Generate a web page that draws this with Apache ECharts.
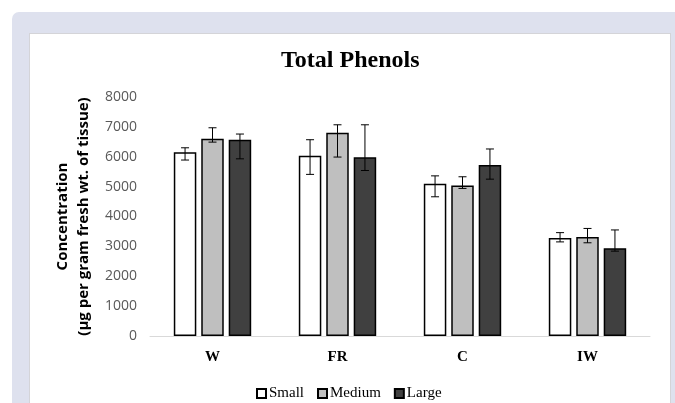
<!DOCTYPE html>
<html>
<head>
<meta charset="utf-8">
<script src="https://cdn.jsdelivr.net/npm/echarts@6/dist/echarts.min.js"></script>
<style>
  html, body { margin: 0; padding: 0; background: #ffffff; }
  #frame { position: absolute; left: 12px; top: 12px; width: 663px; height: 391px;
           background: #dee1ee; border-top-left-radius: 7px; }
  #panel { position: absolute; left: 29px; top: 33px; width: 640px; height: 370px;
           background: #ffffff; border: 1px solid #d4d4d8; border-bottom: none; }
  #chart { position: absolute; left: 0; top: 0; width: 675px; height: 403px; }
</style>
</head>
<body>
<div id="frame"></div>
<div id="panel"></div>
<div id="chart"></div>
<script>
// Tissue categories and size classes
const categories = ['W', 'FR', 'C', 'IW'];
const sizeNames = ['Small', 'Medium', 'Large'];

// Mean total phenol concentration (µg per gram fresh wt.)
const smallMean  = [6150, 6030, 5100, 3280];
const mediumMean = [6600, 6800, 5040, 3310];
const largeMean  = [6570, 5980, 5720, 2940];

// Error bar extents (lower and upper ends)
const smallLow   = [5890, 5410, 4660, 3150];
const smallHigh  = [6300, 6570, 5360, 3460];
const mediumLow  = [6490, 5990, 4940, 3120];
const mediumHigh = [6970, 7070, 5330, 3600];
const largeLow   = [5930, 5540, 5250, 2840];
const largeHigh  = [6760, 7070, 6260, 3550];

// Y axis ticks
const yMin = 0, yMax = 8000, yStep = 1000;

const fills = ['#ffffff', '#bfbfbf', '#404040'];
const means = [smallMean, mediumMean, largeMean];
const lows = [smallLow, mediumLow, largeLow];
const highs = [smallHigh, mediumHigh, largeHigh];

const BAR_FRACTION = 0.18;   // bar width as part of the category band
const BAR_GAP = 0.22;        // gap as part of bar width

const barSeries = sizeNames.map((name, i) => ({
  name: name,
  type: 'bar',
  data: means[i],
  barWidth: (BAR_FRACTION * 100) + '%',
  barGap: (BAR_GAP * 100) + '%',
  itemStyle: { color: fills[i], borderColor: '#000000', borderWidth: 1.5 },
  emphasis: { disabled: true },
  z: 2
}));

const errorSeries = sizeNames.map((name, i) => ({
  name: name + ' error',
  type: 'custom',
  data: categories.map((c, k) => [k, lows[i][k], highs[i][k]]),
  encode: { x: 0, y: [1, 2] },
  z: 5,
  renderItem: function (params, api) {
    const k = api.value(0);
    const lo = api.coord([k, api.value(1)]);
    const hi = api.coord([k, api.value(2)]);
    const band = api.size([1, 0])[0];
    const dx = (i - 1) * band * BAR_FRACTION * (1 + BAR_GAP);
    const x = lo[0] + dx;
    const cap = 4;
    const style = { stroke: '#000000', lineWidth: 1 };
    return {
      type: 'group',
      children: [
        { type: 'line', shape: { x1: x, y1: hi[1], x2: x, y2: lo[1] }, style: style },
        { type: 'line', shape: { x1: x - cap, y1: hi[1], x2: x + cap, y2: hi[1] }, style: style },
        { type: 'line', shape: { x1: x - cap, y1: lo[1], x2: x + cap, y2: lo[1] }, style: style }
      ]
    };
  }
}));

const chart = echarts.init(document.getElementById('chart'), null, { renderer: 'canvas' });
chart.setOption({
  backgroundColor: 'transparent',
  animation: false,
  title: {
    text: 'Total Phenols',
    left: 276,
    top: 44,
    textStyle: { fontFamily: 'Liberation Serif', fontWeight: 'bold', fontSize: 24, color: '#000000' }
  },
  legend: {
    data: sizeNames,
    left: 251,
    top: 381,
    itemWidth: 9,
    itemHeight: 9,
    itemGap: 13,
    icon: 'rect',
    textStyle: { fontFamily: 'Liberation Serif', fontSize: 15, color: '#000000', padding: [0, 0, 0, -2] }
  },
  grid: { left: 150, right: 25, top: 97, bottom: 67 },
  xAxis: {
    type: 'category',
    data: categories,
    axisLine: { lineStyle: { color: '#d9d9d9', width: 1 } },
    axisTick: { show: false },
    axisLabel: { margin: 14, fontFamily: 'Liberation Serif', fontWeight: 'bold', fontSize: 15, color: '#000000' }
  },
  yAxis: {
    type: 'value',
    min: yMin,
    max: yMax,
    interval: yStep,
    name: 'Concentration\n(µg per gram fresh wt. of tissue)',
    nameLocation: 'middle',
    nameRotate: 90,
    nameGap: 51,
    nameTextStyle: { fontFamily: 'Open Sans', fontWeight: 'bold', fontSize: 15, color: '#000000', lineHeight: 21 },
    axisLine: { show: false },
    axisTick: { show: false },
    splitLine: { show: false },
    axisLabel: {
      margin: 13, fontFamily: 'Open Sans', fontSize: 14, color: '#595959',
      formatter: (v) => String(v)
    }
  },
  series: barSeries.concat(errorSeries)
});
</script>
</body>
</html>
